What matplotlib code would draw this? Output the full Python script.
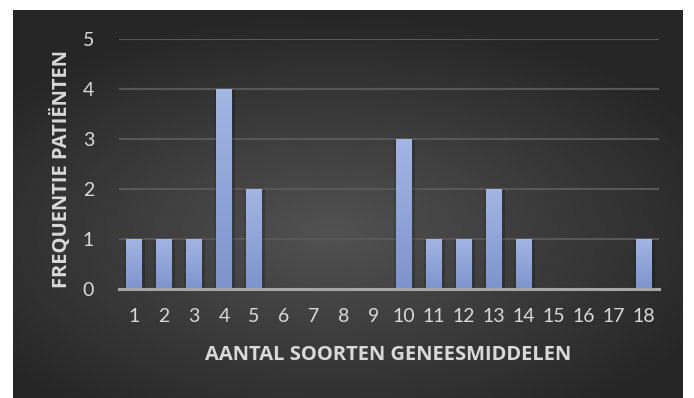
import numpy as np
import matplotlib.pyplot as plt
from matplotlib import patheffects

categories = [str(i) for i in range(1, 19)]
counts = [1, 1, 1, 4, 2, 0, 0, 0, 0, 3, 1, 1, 2, 1, 0, 0, 0, 1]
y_ticks = [0, 1, 2, 3, 4, 5]

x_title = 'AANTAL SOORTEN GENEESMIDDELEN'
y_title = 'FREQUENTIE PATIËNTEN'

W, H = 694, 398
text_col = '#d9d9d9'
plt.rcParams['font.family'] = ['Lato', 'DejaVu Sans']

fig = plt.figure(figsize=(W / 100, H / 100), dpi=100)
fig.patch.set_facecolor('white')

# dark chart area with a soft radial glow
bg = fig.add_axes([13 / W, 0, (683 - 13) / W, (H - 10) / H])
bg.set_axis_off()
gx, gy = np.meshgrid(np.linspace(-1, 1, 400), np.linspace(-1, 1, 240))
r = np.sqrt(((gx + 0.05) / 1.1) ** 2 + ((gy - 0.15) / 1.0) ** 2)
shade = np.clip(0.32 - 0.15 * r, 0.15, 0.32)
bg.imshow(np.dstack([shade] * 3), aspect='auto', extent=[0, 1, 0, 1],
          interpolation='bicubic')
bg.set_xlim(0, 1)
bg.set_ylim(0, 1)

ax = fig.add_axes([119 / W, (H - 289) / H, 540 / W, 250 / H])
ax.patch.set_alpha(0)
x = np.arange(len(categories))
halo = [patheffects.SimplePatchShadow(offset=(2, -1), shadow_rgbFace='black', alpha=0.18),
        patheffects.SimplePatchShadow(offset=(-1.5, -1), shadow_rgbFace='black', alpha=0.12),
        patheffects.Normal()]
bars = ax.bar(x, counts, width=0.53, color='#8ea2d8', zorder=3, path_effects=halo)

# vertical light-to-dark fill on each bar
grad = np.linspace(0, 1, 100).reshape(-1, 1)
top = np.array([0.64, 0.71, 0.89])
bot = np.array([0.49, 0.58, 0.80])
fill = bot + (top - bot) * grad[..., None]
for b in bars:
    if b.get_height() <= 0:
        continue
    im = ax.imshow(fill, origin='lower', aspect='auto', zorder=4,
                   extent=[b.get_x(), b.get_x() + b.get_width(), 0, b.get_height()])
    im.set_clip_path(b)

ax.set_xlim(-0.5, len(categories) - 0.5)
ax.set_ylim(0, 5)
ax.set_yticks(y_ticks)
ax.set_xticks(x)
ax.set_xticklabels(categories)
ax.grid(axis='y', color='#575757', linewidth=1.5, zorder=1)
for side in ['top', 'right', 'left']:
    ax.spines[side].set_visible(False)
ax.spines['bottom'].set_color('#a6a6a6')
ax.spines['bottom'].set_linewidth(2.2)
ax.spines['bottom'].set_zorder(5)
ax.tick_params(length=0, colors=text_col, labelsize=14)
ax.tick_params(axis='x', pad=14)
ax.tick_params(axis='y', pad=18)

title_font = dict(color=text_col, fontsize=14.5, fontweight='bold',
                  family=['Open Sans', 'DejaVu Sans'], ha='center', va='center')
fig.text(388 / W, 1 - 355 / H, x_title, **title_font)
fig.text(62 / W, 1 - 169 / H, y_title, rotation=90, **title_font)

fig.savefig('out.png', dpi=100, facecolor='white')
